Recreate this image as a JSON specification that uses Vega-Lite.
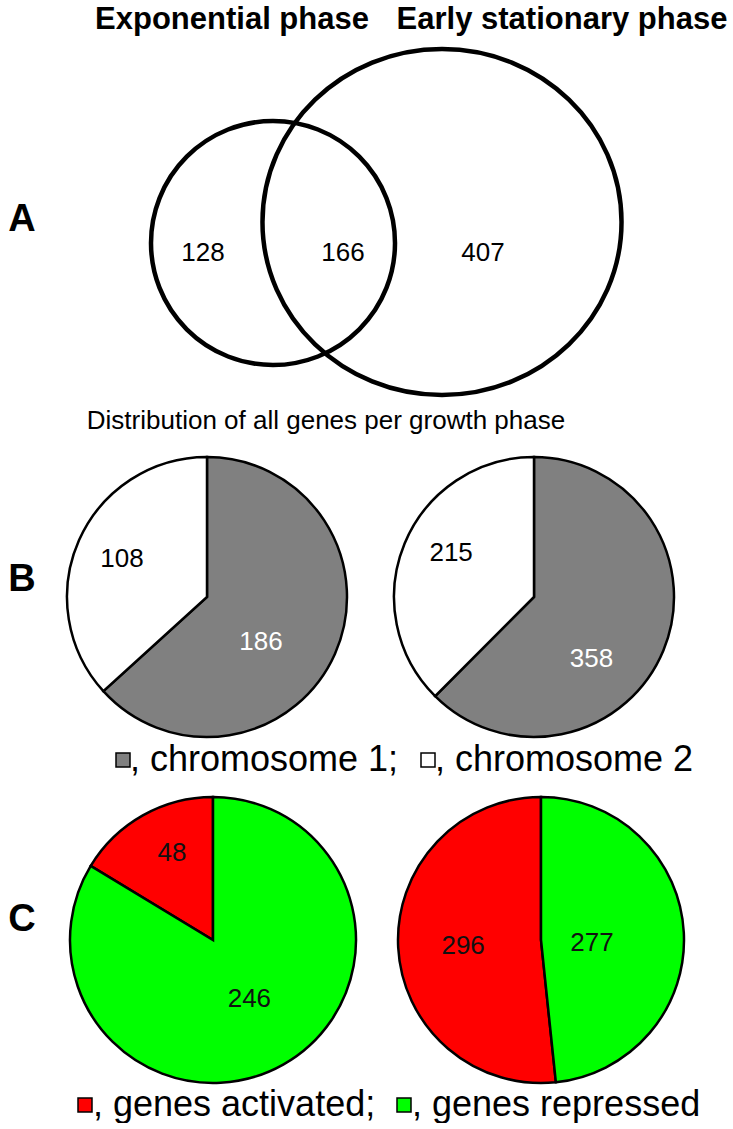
{
  "$schema": "https://vega.github.io/schema/vega-lite/v6.json",
  "padding": 0,
  "background": "white",
  "config": {"view": {"stroke": null}, "font": "Liberation Sans", "text": {"font": "Liberation Sans"}},
  "datasets": {
    "phases": [{"phase": "Exponential phase"}, {"phase": "Early stationary phase"}],
    "venn_sets": [{"set": "Exponential phase", "genes": 294}, {"set": "Early stationary phase", "genes": 573}],
    "venn_regions": [{"region": "Exponential only", "genes": 128}, {"region": "Both phases", "genes": 166}, {"region": "Early stationary only", "genes": 407}],
    "chromosomes": [
      {"phase": "Exponential phase", "chromosome": "chromosome 1", "genes": 186},
      {"phase": "Exponential phase", "chromosome": "chromosome 2", "genes": 108},
      {"phase": "Early stationary phase", "chromosome": "chromosome 1", "genes": 358},
      {"phase": "Early stationary phase", "chromosome": "chromosome 2", "genes": 215}
    ],
    "regulation": [
      {"phase": "Exponential phase", "regulation": "genes activated", "genes": 48},
      {"phase": "Exponential phase", "regulation": "genes repressed", "genes": 246},
      {"phase": "Early stationary phase", "regulation": "genes activated", "genes": 296},
      {"phase": "Early stationary phase", "regulation": "genes repressed", "genes": 277}
    ],
    "panels": [{"panel": "A"}, {"panel": "B"}, {"panel": "C"}],
    "titles": [{"title": "Distribution of all genes per growth phase"}]
  },
  "spacing": 0,
  "bounds": "flush",
  "resolve": {"scale": {"color": "independent", "theta": "independent", "x": "independent", "y": "independent"}},
  "vconcat": [
    {
      "width": 733, "height": 40,
      "data": {"name": "phases"},
      "mark": {"type": "text", "fontSize": 31, "fontWeight": "bold", "color": "black"},
      "encoding": {
        "x": {"field": "phase", "type": "nominal", "scale": {"type": "point", "padding": 0, "domain": ["Exponential phase", "Early stationary phase"], "range": [232, 562]}, "axis": null},
        "text": {"field": "phase", "type": "nominal"}
      }
    },
    {
      "width": 733, "height": 366,
      "layer": [
        {
          "data": {"name": "panels"},
          "transform": [{"filter": "datum.panel == 'A'"}],
          "mark": {"type": "text", "fontSize": 38, "fontWeight": "bold", "dy": -3, "color": "black"},
          "encoding": {
            "x": {"field": "panel", "type": "nominal", "scale": {"type": "point", "padding": 0, "range": [22, 22]}, "axis": null},
            "text": {"field": "panel", "type": "nominal"}
          }
        },
        {
          "data": {"name": "venn_sets"},
          "mark": {"type": "point", "filled": false, "color": "black", "strokeWidth": 4.5, "opacity": 1},
          "encoding": {
            "x": {"field": "set", "type": "nominal", "scale": {"type": "point", "padding": 0, "domain": ["Exponential phase", "Early stationary phase"], "range": [273, 442]}, "axis": null},
            "y": {"field": "set", "type": "nominal", "scale": {"type": "point", "padding": 0, "domain": ["Exponential phase", "Early stationary phase"], "range": [203, 182]}, "axis": null},
            "shape": {"field": "set", "type": "nominal", "scale": {"domain": ["Exponential phase", "Early stationary phase"], "range": ["circle", "M-1.02,0A1.02,0.983,0,1,1,1.02,0A1.02,0.983,0,1,1,-1.02,0Z"]}, "legend": null},
            "size": {"field": "genes", "type": "quantitative", "scale": {"domain": [294, 573], "range": [59536, 123904], "zero": false}, "legend": null}
          }
        },
        {
          "data": {"name": "venn_regions"},
          "mark": {"type": "text", "fontSize": 26, "dy": 30, "color": "black"},
          "encoding": {
            "x": {"field": "region", "type": "nominal", "scale": {"type": "point", "padding": 0, "domain": ["Exponential only", "Both phases", "Early stationary only"], "range": [203, 483]}, "axis": null},
            "text": {"field": "genes", "type": "quantitative"}
          }
        }
      ],
      "resolve": {"scale": {"x": "independent", "y": "independent"}}
    },
    {
      "width": 652, "height": 30,
      "data": {"name": "titles"},
      "mark": {"type": "text", "fontSize": 26, "color": "black"},
      "encoding": {"text": {"field": "title", "type": "nominal"}}
    },
    {
      "width": 733, "height": 322,
      "layer": [
        {
          "data": {"name": "panels"},
          "transform": [{"filter": "datum.panel == 'B'"}],
          "mark": {"type": "text", "fontSize": 38, "fontWeight": "bold", "dy": -17, "color": "black"},
          "encoding": {
            "x": {"field": "panel", "type": "nominal", "scale": {"type": "point", "padding": 0, "range": [22, 22]}, "axis": null},
            "text": {"field": "panel", "type": "nominal"}
          }
        },
        {
          "data": {"name": "chromosomes"},
          "transform": [{"filter": "datum.phase == 'Exponential phase'"}],
          "encoding": {
            "x": {"field": "phase", "type": "nominal", "scale": {"type": "point", "padding": 0, "domain": ["Exponential phase", "Early stationary phase"], "range": [207, 534]}, "axis": null},
            "theta": {"field": "genes", "type": "quantitative", "stack": true},
            "order": {"field": "chromosome", "type": "nominal", "sort": "ascending"},
            "detail": {"field": "chromosome", "type": "nominal"}
          },
          "layer": [
            {
              "mark": {"type": "arc", "radius": 140, "stroke": "black", "strokeWidth": 2.5},
              "encoding": {
                "color": {"field": "chromosome", "type": "nominal", "scale": {"domain": ["chromosome 1", "chromosome 2"], "range": ["#808080", "#ffffff"]},
                  "legend": {"orient": "none", "legendX": 105, "legendY": 306, "direction": "horizontal", "columns": 2, "title": null, "symbolType": "square", "symbolSize": 196, "labelFontSize": 36, "labelFont": "Liberation Sans", "labelColor": "black", "labelOffset": -11, "labelLimit": 600, "columnPadding": 11, "padding": 0,
                    "labelExpr": "', ' + datum.label + (datum.label == 'chromosome 1' ? ';' : '')",
                    "encode": {"symbols": {"update": {"stroke": {"signal": "datum.value === 'chromosome 2' ? 'black' : 'transparent'"}, "strokeWidth": {"value": 1}, "size": {"signal": "datum.value === 'chromosome 2' ? 110 : 196"}}}}}}
              }
            },
            {
              "mark": {"type": "text", "radius": 93, "fontSize": 26, "color": "black"},
              "encoding": {"text": {"condition": {"test": "datum.chromosome == 'chromosome 2'", "field": "genes", "type": "quantitative"}, "value": ""}}
            },
            {
              "mark": {"type": "text", "radius": 70, "dx": -10, "dy": 17, "fontSize": 26, "color": "white"},
              "encoding": {"text": {"condition": {"test": "datum.chromosome == 'chromosome 1'", "field": "genes", "type": "quantitative"}, "value": ""}}
            }
          ]
        },
        {
          "data": {"name": "chromosomes"},
          "transform": [{"filter": "datum.phase == 'Early stationary phase'"}],
          "encoding": {
            "x": {"field": "phase", "type": "nominal", "scale": {"type": "point", "padding": 0, "domain": ["Exponential phase", "Early stationary phase"], "range": [207, 534]}, "axis": null},
            "theta": {"field": "genes", "type": "quantitative", "stack": true},
            "order": {"field": "chromosome", "type": "nominal", "sort": "ascending"},
            "detail": {"field": "chromosome", "type": "nominal"}
          },
          "layer": [
            {
              "mark": {"type": "arc", "radius": 140, "stroke": "black", "strokeWidth": 2.5},
              "encoding": {
                "color": {"field": "chromosome", "type": "nominal", "scale": {"domain": ["chromosome 1", "chromosome 2"], "range": ["#808080", "#ffffff"]},
                  "legend": {"orient": "none", "legendX": 105, "legendY": 306, "direction": "horizontal", "columns": 2, "title": null, "symbolType": "square", "symbolSize": 196, "labelFontSize": 36, "labelFont": "Liberation Sans", "labelColor": "black", "labelOffset": -11, "labelLimit": 600, "columnPadding": 11, "padding": 0,
                    "labelExpr": "', ' + datum.label + (datum.label == 'chromosome 1' ? ';' : '')",
                    "encode": {"symbols": {"update": {"stroke": {"signal": "datum.value === 'chromosome 2' ? 'black' : 'transparent'"}, "strokeWidth": {"value": 1}, "size": {"signal": "datum.value === 'chromosome 2' ? 110 : 196"}}}}}}
              }
            },
            {
              "mark": {"type": "text", "radius": 94, "dx": 4, "dy": -8, "fontSize": 26, "color": "black"},
              "encoding": {"text": {"condition": {"test": "datum.chromosome == 'chromosome 2'", "field": "genes", "type": "quantitative"}, "value": ""}}
            },
            {
              "mark": {"type": "text", "radius": 85, "dx": -21, "dy": 30, "fontSize": 26, "color": "white"},
              "encoding": {"text": {"condition": {"test": "datum.chromosome == 'chromosome 1'", "field": "genes", "type": "quantitative"}, "value": ""}}
            }
          ]
        }
      ],
      "resolve": {"scale": {"theta": "independent", "x": "independent"}}
    },
    {
      "width": 733, "height": 364,
      "layer": [
        {
          "data": {"name": "panels"},
          "transform": [{"filter": "datum.panel == 'C'"}],
          "mark": {"type": "text", "fontSize": 38, "fontWeight": "bold", "dy": -20, "color": "black"},
          "encoding": {
            "x": {"field": "panel", "type": "nominal", "scale": {"type": "point", "padding": 0, "range": [22, 22]}, "axis": null},
            "text": {"field": "panel", "type": "nominal"}
          }
        },
        {
          "data": {"name": "regulation"},
          "transform": [{"filter": "datum.phase == 'Exponential phase'"}],
          "encoding": {
            "x": {"field": "phase", "type": "nominal", "scale": {"type": "point", "padding": 0, "domain": ["Exponential phase", "Early stationary phase"], "range": [213, 541]}, "axis": null},
            "theta": {"field": "genes", "type": "quantitative", "stack": true},
            "order": {"field": "regulation", "type": "nominal", "sort": "descending"},
            "detail": {"field": "regulation", "type": "nominal"}
          },
          "layer": [
            {
              "mark": {"type": "arc", "radius": 143, "stroke": "black", "strokeWidth": 2.5},
              "encoding": {
                "color": {"field": "regulation", "type": "nominal", "scale": {"domain": ["genes activated", "genes repressed"], "range": ["#ff0000", "#00ff00"]},
                  "legend": {"orient": "none", "legendX": 67, "legendY": 329, "direction": "horizontal", "columns": 2, "title": null, "symbolType": "square", "symbolSize": 196, "labelFontSize": 36, "labelFont": "Liberation Sans", "labelColor": "black", "labelOffset": -10, "labelLimit": 600, "columnPadding": 10, "padding": 0,
                    "labelExpr": "', ' + datum.label + (datum.label == 'genes activated' ? ';' : '')",
                    "encode": {"symbols": {"update": {"fill": {"signal": "datum.value === 'genes repressed' ? '#1a9f3a' : '#ff0000'"}, "stroke": {"value": "transparent"}}}}}}
              }
            },
            {
              "mark": {"type": "text", "radius": 96, "dx": 6, "dy": -3, "fontSize": 26, "color": "#111111"},
              "encoding": {"text": {"condition": {"test": "datum.regulation == 'genes activated'", "field": "genes", "type": "quantitative"}, "value": ""}}
            },
            {
              "mark": {"type": "text", "radius": 68, "dx": 3, "fontSize": 26, "color": "#111111"},
              "encoding": {"text": {"condition": {"test": "datum.regulation == 'genes repressed'", "field": "genes", "type": "quantitative"}, "value": ""}}
            }
          ]
        },
        {
          "data": {"name": "regulation"},
          "transform": [{"filter": "datum.phase == 'Early stationary phase'"}],
          "encoding": {
            "x": {"field": "phase", "type": "nominal", "scale": {"type": "point", "padding": 0, "domain": ["Exponential phase", "Early stationary phase"], "range": [213, 541]}, "axis": null},
            "theta": {"field": "genes", "type": "quantitative", "stack": true},
            "order": {"field": "regulation", "type": "nominal", "sort": "descending"},
            "detail": {"field": "regulation", "type": "nominal"}
          },
          "layer": [
            {
              "mark": {"type": "arc", "radius": 143, "stroke": "black", "strokeWidth": 2.5},
              "encoding": {
                "color": {"field": "regulation", "type": "nominal", "scale": {"domain": ["genes activated", "genes repressed"], "range": ["#ff0000", "#00ff00"]},
                  "legend": {"orient": "none", "legendX": 67, "legendY": 329, "direction": "horizontal", "columns": 2, "title": null, "symbolType": "square", "symbolSize": 196, "labelFontSize": 36, "labelFont": "Liberation Sans", "labelColor": "black", "labelOffset": -10, "labelLimit": 600, "columnPadding": 10, "padding": 0,
                    "labelExpr": "', ' + datum.label + (datum.label == 'genes activated' ? ';' : '')",
                    "encode": {"symbols": {"update": {"fill": {"signal": "datum.value === 'genes repressed' ? '#1a9f3a' : '#ff0000'"}, "stroke": {"value": "transparent"}}}}}}
              }
            },
            {
              "mark": {"type": "text", "radius": 78, "dy": 2, "fontSize": 26, "color": "#111111"},
              "encoding": {"text": {"condition": {"test": "datum.regulation == 'genes activated'", "field": "genes", "type": "quantitative"}, "value": ""}}
            },
            {
              "mark": {"type": "text", "radius": 51, "dy": 6, "fontSize": 26, "color": "#111111"},
              "encoding": {"text": {"condition": {"test": "datum.regulation == 'genes repressed'", "field": "genes", "type": "quantitative"}, "value": ""}}
            }
          ]
        }
      ],
      "resolve": {"scale": {"theta": "independent", "x": "independent"}}
    }
  ]
}
